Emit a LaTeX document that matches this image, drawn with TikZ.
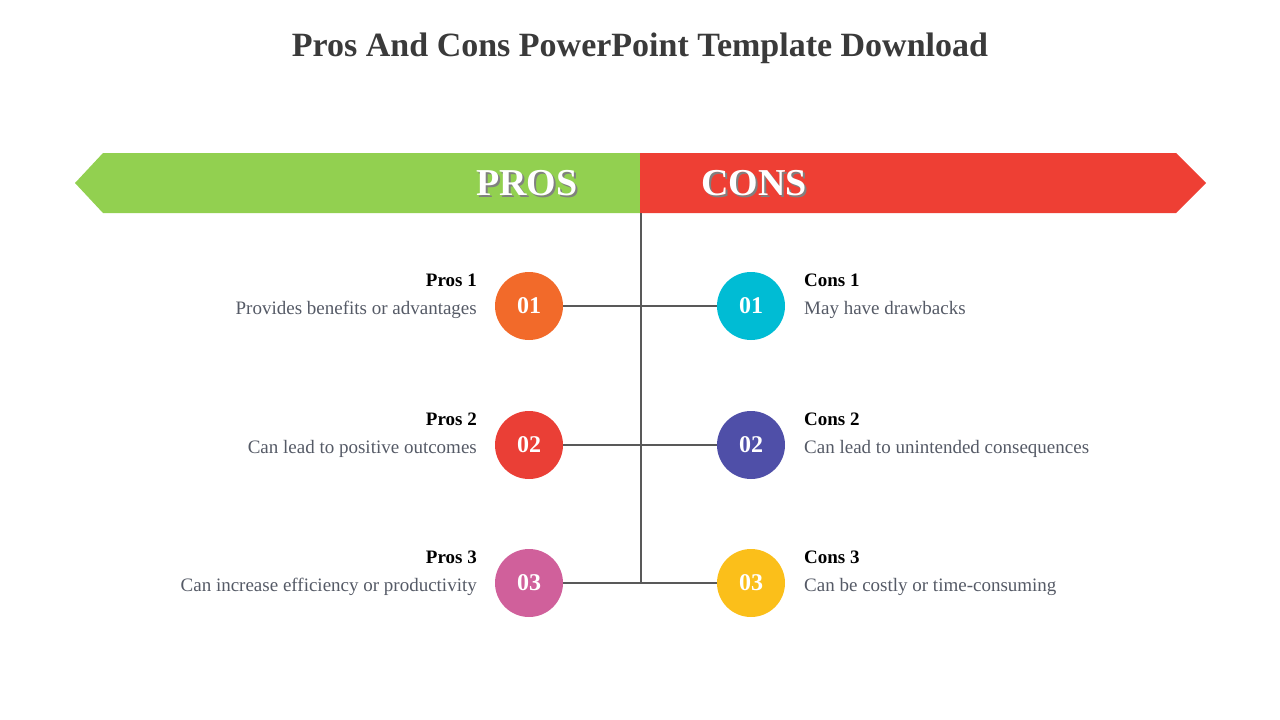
\documentclass[tikz,border=0pt]{standalone}
\usepackage{fontspec}
\setmainfont{Liberation Serif}
\usetikzlibrary{shadows}
\definecolor{ttl}{HTML}{3A3A3A}
\definecolor{gr}{HTML}{92D050}
\definecolor{rd}{HTML}{EE3F34}
\definecolor{desc}{HTML}{555A66}
\tikzset{
 circ/.style={circle,minimum size=68pt,inner sep=0pt,text=white,font=\fontsize{24pt}{24pt}\selectfont\bfseries},
 head/.style={font=\fontsize{19pt}{19pt}\selectfont\bfseries,inner sep=0pt},
 dsc/.style={font=\fontsize{19pt}{19pt}\selectfont,text=desc,inner sep=0pt},
 ln/.style={draw=black!65,line width=1.5pt}
}
\begin{document}
\begin{tikzpicture}[x=1pt,y=-1pt]
\useasboundingbox (0,0) rectangle (1280,720);
\node[font=\fontsize{34pt}{34pt}\selectfont\bfseries,text=ttl] (title) at (640,48) {Pros And Cons PowerPoint Template Download};
\fill[gr] (75,183) -- (103,153) -- (640,153) -- (640,213) -- (103,213) -- cycle;
\fill[rd] (640,153) -- (1176,153) -- (1206,183) -- (1176,213) -- (640,213) -- cycle;
\node[font=\fontsize{38pt}{38pt}\selectfont\bfseries,text=black!50] at (529,185) {PROS};
\node[font=\fontsize{38pt}{38pt}\selectfont\bfseries,text=white] (pros) at (527,183) {PROS};
\node[font=\fontsize{38pt}{38pt}\selectfont\bfseries,text=black!50] at (756,185) {CONS};
\node[font=\fontsize{38pt}{38pt}\selectfont\bfseries,text=white] (cons) at (754,183) {CONS};
\coordinate (top) at (641,213);
\coordinate (bot) at (641,583);
\draw[ln] (top) -- (bot);
\foreach \y/\n/\cl/\cr/\ph/\pd/\chh/\cd in {
 306/01/F26A2A/00BCD4/Pros 1/Provides benefits or advantages/Cons 1/May have drawbacks,
 445/02/EA3F36/4F4FA8/Pros 2/Can lead to positive outcomes/Cons 2/Can lead to unintended consequences,
 583/03/D0609B/FBBF1A/Pros 3/Can increase efficiency or productivity/Cons 3/Can be costly or time-consuming}{
 \definecolor{cL}{HTML}{\cl}\definecolor{cR}{HTML}{\cr}
 \draw[ln] (563,\y) -- (718,\y);
 \node[circ,fill=cL] (l\n) at (529,\y) {\n};
 \node[circ,fill=cR] (r\n) at (751,\y) {\n};
 \node[head,anchor=east] (lh\n) at (477,\y-26) {\ph};
 \node[dsc,anchor=east] (ld\n) at (477,\y+4) {\pd};
 \node[head,anchor=west] (rh\n) at (804,\y-26) {\chh};
 \node[dsc,anchor=west] (rd\n) at (804,\y+4) {\cd};
}
\end{tikzpicture}
\end{document}
